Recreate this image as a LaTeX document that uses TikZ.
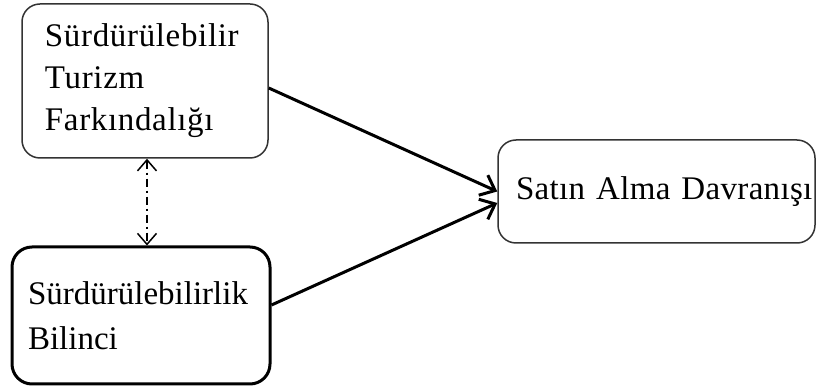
\documentclass[tikz,border=0pt]{standalone}
\usepackage{fontspec}
\setmainfont{Liberation Serif}
\usetikzlibrary{arrows.meta}
\begin{document}
\begin{tikzpicture}[x=1pt,y=-1pt,
  box/.style={draw=black!80, line width=1.5pt, rounded corners=18pt, inner ysep=0pt, align=left},
  thickbox/.style={box, draw=black, line width=3pt, rounded corners=20pt},
  conn/.style={line width=3pt, -{Straight Barb[length=13pt,width=22pt]}},
  dconn/.style={line width=1.5pt, dash pattern=on 8pt off 4pt on 2pt off 4pt,
     {Straight Barb[length=11pt,width=19pt]}-{Straight Barb[length=11pt,width=19pt]}}
]
\useasboundingbox (0,0) rectangle (817,387);
\node[box, minimum width=246pt, minimum height=154pt, inner xsep=23pt, text width=200pt,
  font=\fontsize{33}{42}\selectfont\addfontfeatures{LetterSpace=2}] (b1) at (145,81)
  {Sürdürülebilir\\Turizm\\Farkındalığı};
\node[thickbox, minimum width=258pt, minimum height=137pt, inner xsep=16pt, text width=226pt,
  font=\fontsize{33}{45}\selectfont] (b2) at (141,315.5)
  {Sürdürülebilirlik\\Bilinci};
\node[box, minimum width=317pt, minimum height=103pt, inner xsep=18pt, text width=281pt,
  font=\fontsize{33}{42}\selectfont\addfontfeatures{LetterSpace=1}] (b3) at (656.5,191.5)
  {\mbox{Satın Alma Davranışı}};
\draw[conn] ([yshift=-7pt]b1.east) -- (b3.west);
\draw[conn] ([yshift=10.5pt]b2.east) -- ([yshift=-11.5pt]b3.west);
\coordinate (dx) at (147,0);
\draw[dconn] (b1.south -| dx) -- (b2.north -| dx);
\end{tikzpicture}
\end{document}
